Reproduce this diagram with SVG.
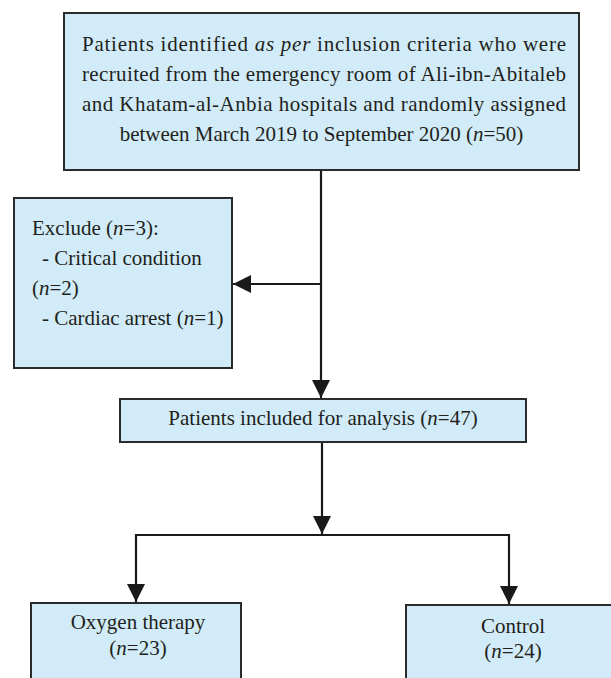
<svg xmlns="http://www.w3.org/2000/svg" width="611" height="678" viewBox="0 0 611 678">
<defs>
<style>
.box{fill:#d1ecf8;stroke:#2b2b2b;stroke-width:2}
.t{font-family:"Liberation Serif","Times New Roman",serif;font-size:21px;fill:#231f20}
.c{text-anchor:middle}
.i{font-style:italic}
.ln{stroke:#1a1a1a;stroke-width:2.2;fill:none}
</style>
<marker id="ah" viewBox="0 0 18 18" refX="18" refY="9" markerWidth="18" markerHeight="18" markerUnits="userSpaceOnUse" orient="auto">
<path d="M0,0 L18,9 L0,18 Z" fill="#1a1a1a"/>
</marker>
</defs>
<rect width="611" height="678" fill="#ffffff"/>
<g id="connectors">
<path class="ln" d="M321,170 V398" marker-end="url(#ah)"/>
<path class="ln" d="M321,284 H233" marker-end="url(#ah)"/>
<path class="ln" d="M322,442 V534" marker-end="url(#ah)"/>
<path class="ln" d="M136,535 H509"/>
<path class="ln" d="M136,534 V602" marker-end="url(#ah)"/>
<path class="ln" d="M509,534 V604" marker-end="url(#ah)"/>
</g>
<g id="recruited">
<rect class="box" x="64" y="13" width="515" height="157"/>
<text class="t" x="82" y="51" textLength="484" lengthAdjust="spacing">Patients identified <tspan class="i">as per</tspan> inclusion criteria who were</text>
<text class="t" x="82" y="81" textLength="484" lengthAdjust="spacing">recruited from the emergency room of Ali-ibn-Abitaleb</text>
<text class="t" x="82" y="111" textLength="484" lengthAdjust="spacing">and Khatam-al-Anbia hospitals and randomly assigned</text>
<text class="t c" x="321.5" y="141">between March 2019 to September 2020 (<tspan class="i">n</tspan>=50)</text>
</g>
<g id="excluded">
<rect class="box" x="14" y="198" width="218" height="170"/>
<text class="t" x="32" y="235">Exclude (<tspan class="i">n</tspan>=3):</text>
<text class="t" x="42" y="265">- Critical condition</text>
<text class="t" x="32" y="295">(<tspan class="i">n</tspan>=2)</text>
<text class="t" x="42" y="325">- Cardiac arrest (<tspan class="i">n</tspan>=1)</text>
</g>
<g id="included">
<rect class="box" x="120" y="399" width="406" height="43"/>
<text class="t c" x="323" y="425">Patients included for analysis (<tspan class="i">n</tspan>=47)</text>
</g>
<g id="oxygen">
<rect class="box" x="31" y="603" width="210" height="90"/>
<text class="t c" x="138" y="629">Oxygen therapy</text>
<text class="t c" x="138" y="655">(<tspan class="i">n</tspan>=23)</text>
</g>
<g id="control">
<rect class="box" x="406" y="605" width="214" height="90"/>
<text class="t c" x="513" y="633">Control</text>
<text class="t c" x="513" y="658">(<tspan class="i">n</tspan>=24)</text>
</g>
</svg>
